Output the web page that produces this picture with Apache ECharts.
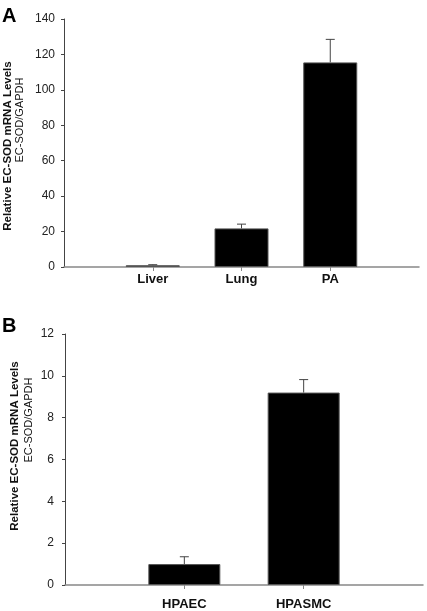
<!DOCTYPE html>
<html><head><meta charset="utf-8">
<script src="https://cdn.jsdelivr.net/npm/echarts@6/dist/echarts.min.js"></script>
<style>html,body{margin:0;padding:0;background:#fff}#c{width:427px;height:611px}</style>
</head><body><div id="c"></div>
<script>
// Panel A data
const catsA = ['Liver', 'Lung', 'PA'];
const valsA = [1.0, 21.8, 115.5];
const errA = [0.3, 2.4, 13.0];
const yTicksA = {min: 0, max: 140, interval: 20};
// Panel B data
const catsB = ['HPAEC', 'HPASMC'];
const valsB = [1.0, 9.2];
const errB = [0.35, 0.62];
const yTicksB = {min: 0, max: 12, interval: 2};
const titleBold = 'Relative EC-SOD mRNA Levels';
const titleNorm = 'EC-SOD/GAPDH';

const FONT = '"Liberation Sans", Arial, sans-serif';
function pad(a, fill) { return [fill].concat(a, [fill]); }
const cA = pad(catsA, ''), cB = pad(catsB, '');

function errSeries(xi, yi, vals, errs) {
  const data = vals.map((v, i) => [i + 1, v, errs[i]]);
  return {
    type: 'custom', xAxisIndex: xi, yAxisIndex: yi, z: 5,
    data: data,
    renderItem: function (params, api) {
      const x = api.value(0), v = api.value(1), e = api.value(2);
      const p0 = api.coord([x, v]), p1 = api.coord([x, v + e]);
      const hw = 4.5;
      const st = {stroke: '#444', lineWidth: 1};
      return {type: 'group', children: [
        {type: 'line', shape: {x1: p0[0], y1: p0[1], x2: p1[0], y2: p1[1]}, style: st},
        {type: 'line', shape: {x1: p1[0] - hw, y1: p1[1], x2: p1[0] + hw, y2: p1[1]}, style: st}
      ]};
    }
  };
}

function xAxis(gi, cats, margin) {
  const n = cats.length;
  return {
    type: 'category', gridIndex: gi, data: cats, boundaryGap: false,
    axisLine: {lineStyle: {color: '#888', width: 1.5}},
    axisTick: {length: 4, lineStyle: {color: '#888'}, interval: (i) => i > 0 && i < n - 1},
    axisLabel: {interval: 0, margin: margin, color: '#111', fontWeight: 'bold', fontSize: 13, fontFamily: FONT},
    splitLine: {show: false}
  };
}
function yAxis(gi, t, margin) {
  return {
    type: 'value', gridIndex: gi, min: t.min, max: t.max, interval: t.interval,
    axisLine: {show: true, lineStyle: {color: '#444', width: 1}},
    axisTick: {show: true, length: 3, lineStyle: {color: '#444'}},
    axisLabel: {margin: margin, color: '#222', fontSize: 12, fontFamily: FONT},
    splitLine: {show: false}
  };
}
function vTitle(x, y, text, bold, size) {
  return {type: 'text', x: x, y: y, rotation: Math.PI / 2,
    style: {text: text, fill: '#111', font: (bold ? 'bold ' : '') + size + 'px ' + FONT,
      align: 'center', verticalAlign: 'middle'}};
}

const chart = echarts.init(document.getElementById('c'), null, {renderer: 'canvas'});
chart.setOption({
  animation: false,
  grid: [
    {left: 64, top: 19, right: 8, bottom: 344},
    {left: 65, top: 334, right: 4, bottom: 25}
  ],
  xAxis: [xAxis(0, cA, 6), xAxis(1, cB, 13)],
  yAxis: [yAxis(0, yTicksA, 9), yAxis(1, yTicksB, 11)],
  series: [
    {type: 'bar', xAxisIndex: 0, yAxisIndex: 0, barWidth: 54, data: pad(valsA, '-'),
      itemStyle: {color: '#000', borderColor: '#555', borderWidth: 1}},
    errSeries(0, 0, valsA, errA),
    {type: 'bar', xAxisIndex: 1, yAxisIndex: 1, barWidth: 72, data: pad(valsB, '-'),
      itemStyle: {color: '#000', borderColor: '#555', borderWidth: 1}},
    errSeries(1, 1, valsB, errB)
  ],
  graphic: [
    {type: 'text', left: 2, top: 6, style: {text: 'A', fill: '#000', font: 'bold 20px ' + FONT}},
    {type: 'text', left: 2, top: 316, style: {text: 'B', fill: '#000', font: 'bold 20px ' + FONT}},
    vTitle(8, 146, titleBold, true, 11.5),
    vTitle(20, 120, titleNorm, false, 11),
    vTitle(15, 446, titleBold, true, 11.5),
    vTitle(29, 420, titleNorm, false, 11)
  ]
});
</script></body></html>
